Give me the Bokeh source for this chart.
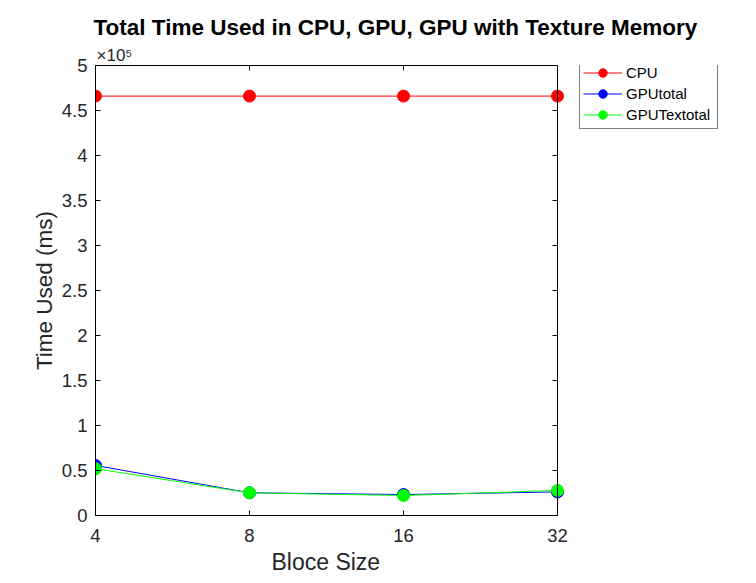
import math
from bokeh.plotting import figure
from bokeh.models import (FixedTicker, LogAxis, Legend, LegendItem,
                          Title, CustomJSTickFormatter, Range1d, Span)
from bokeh.embed import file_html
from bokeh.resources import INLINE

block_sizes = [4, 8, 16, 32]
cpu = [4.66e5, 4.66e5, 4.66e5, 4.66e5]
gpu_total = [0.556e5, 0.252e5, 0.233e5, 0.262e5]
gpu_tex_total = [0.52e5, 0.252e5, 0.222e5, 0.278e5]
y_ticks = [i * 0.5e5 for i in range(11)]
series_names = ["CPU", "GPUtotal", "GPUTextotal"]
series_colors = ["#ff0000", "#0000ff", "#00ff00"]

FONT = "Liberation Sans"
TXT = "#262626"

# axes box is 462 px wide; the frame extends further right to hold the legend
BOX_W, FRAME_W, FRAME_H = 462, 645, 450
x0, x1 = block_sizes[0], block_sizes[-1]
x_end = x0 * (x1 / x0) ** (FRAME_W / BOX_W)

p = figure(frame_width=FRAME_W, frame_height=FRAME_H, x_axis_type="log",
           output_backend="svg", toolbar_location=None,
           x_range=Range1d(x0, x_end), y_range=Range1d(0, 5e5),
           min_border_left=95, min_border_right=16, min_border_top=65,
           min_border_bottom=68, title=None)
p.grid.visible = False
p.outline_line_color = None
p.background_fill_color = "white"
p.border_fill_color = "white"

fmt_y = CustomJSTickFormatter(code="return (tick/1e5).toString();")
fmt_empty = CustomJSTickFormatter(code="return '';")

for ax in p.xaxis:
    ax.ticker = FixedTicker(ticks=block_sizes)
    ax.major_label_overrides = {b: str(b) for b in block_sizes}
    ax.major_label_standoff = 13
    ax.bounds = (x0, x1)
for ax in p.yaxis:
    ax.ticker = FixedTicker(ticks=y_ticks)
    ax.formatter = fmt_y
    ax.axis_label = "Time Used (ms)"
    ax.major_label_standoff = 8
    ax.axis_label_standoff = 2

for ax in p.xaxis + p.yaxis:
    ax.major_tick_in = 5
    ax.major_tick_out = 0
    ax.minor_tick_in = 0
    ax.minor_tick_out = 0
    ax.axis_line_color = "black"
    ax.major_tick_line_color = "black"
    ax.major_label_text_font = FONT
    ax.major_label_text_font_size = "18.5px"
    ax.major_label_text_color = TXT
    ax.axis_label_text_font = FONT
    ax.axis_label_text_font_size = "22.5px"
    ax.axis_label_text_font_style = "normal"
    ax.axis_label_text_color = TXT

top = LogAxis(ticker=FixedTicker(ticks=block_sizes), formatter=fmt_empty,
              major_tick_in=5, major_tick_out=0, minor_tick_in=0, minor_tick_out=0,
              major_label_standoff=0, bounds=(x0, x1), axis_line_color="black")
p.add_layout(top, "above")

# right edge of the axes box with inward ticks
p.add_layout(Span(location=x1, dimension="height", line_color="black", line_width=1))
p.ray(x=[x1] * len(y_ticks), y=y_ticks, length=5, length_units="screen",
      angle=math.pi, line_color="black", line_width=1)

items = []
for name, vals, col in zip(series_names, [cpu, gpu_total, gpu_tex_total], series_colors):
    l = p.line(block_sizes, vals, line_color=col, line_width=1)
    s = p.scatter(block_sizes, vals, size=12, fill_color=col, line_color=col)
    items.append(LegendItem(label=name, renderers=[l, s]))

legend = Legend(items=items, location=(484, 386), border_line_color="black",
                border_line_width=1, background_fill_alpha=1,
                label_text_font=FONT, label_text_font_size="15px",
                label_text_color="black",
                glyph_width=39, glyph_height=21, label_height=21, label_width=88,
                spacing=0, padding=3, margin=0, label_standoff=4)
p.add_layout(legend, "center")

# x-axis label centred under the axes box (not under the wider frame)
x_label = Title(text="Bloce Size", align="left", offset=176, text_font=FONT,
                text_font_size="23px", text_font_style="normal", text_color=TXT,
                standoff=5)
p.add_layout(x_label, "below")

exp_title = Title(text="×10⁵", align="left", offset=1, text_font=FONT,
                  text_font_size="17px", text_font_style="normal", text_color=TXT,
                  standoff=1)
p.add_layout(exp_title, "above")
main_title = Title(text="Total Time Used in CPU, GPU, GPU with Texture Memory",
                   align="left", offset=-2, text_font=FONT, text_font_size="22.5px",
                   text_font_style="bold", text_color="black", standoff=8)
p.add_layout(main_title, "above")

open("out.html", "w").write(file_html(p, INLINE))
